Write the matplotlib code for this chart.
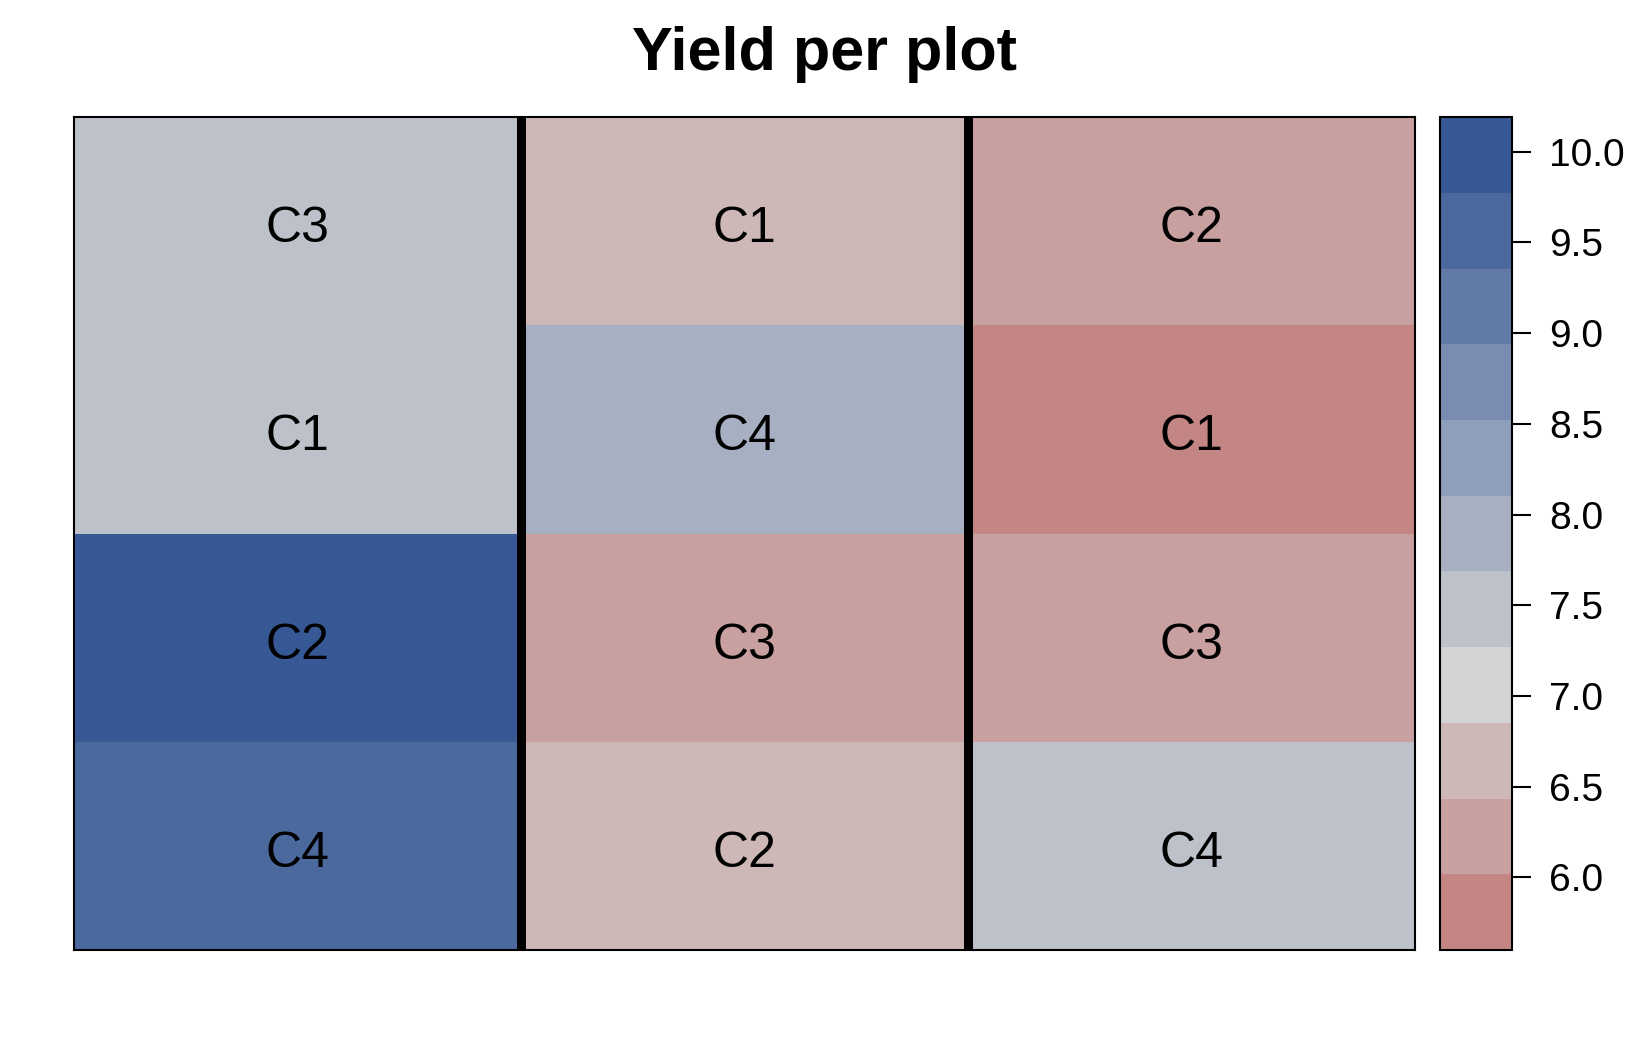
import matplotlib
matplotlib.use("Agg")
import matplotlib.pyplot as plt
import numpy as np
from matplotlib.colors import ListedColormap, BoundaryNorm

plt.rcParams['font.family'] = ['Liberation Sans', 'DejaVu Sans']

# field layout: columns left to right, rows top to bottom
columns = [1, 2, 3]
col1_trt = ['C3', 'C1', 'C2', 'C4']
col2_trt = ['C1', 'C4', 'C3', 'C2']
col3_trt = ['C2', 'C1', 'C3', 'C4']
col1_yield = [7.45, 7.5, 10.19, 9.6]
col2_yield = [6.6, 7.9, 6.2, 6.65]
col3_yield = [6.25, 5.6, 6.2, 7.45]

palette = ["#C38684", "#C8A09F", "#CDB8B7", "#D3D3D3", "#BDC1CA", "#A7B0C2",
           "#8F9EBA", "#7A8DB0", "#627AA6", "#4B699D", "#365996"]

trt = np.array([col1_trt, col2_trt, col3_trt]).T
yld = np.array([col1_yield, col2_yield, col3_yield]).T
nrow, ncol = yld.shape

cmap = ListedColormap(palette)
bounds = np.linspace(yld.min(), yld.max(), len(palette) + 1)
norm = BoundaryNorm(bounds, cmap.N)

fig = plt.figure(figsize=(16.5, 10.5), dpi=100)
ax = fig.add_axes([0.0448, 0.0952, 0.8130, 0.7933])
cax = fig.add_axes([0.8727, 0.0952, 0.0436, 0.7933])

mesh = ax.pcolormesh(np.arange(ncol + 1), np.arange(nrow + 1), yld,
                     cmap=cmap, norm=norm)
ax.set_xlim(0, ncol)
ax.set_ylim(nrow, 0)
for i in range(nrow):
    for j in range(ncol):
        # baseline slightly below centre so the capitals sit mid-cell
        ax.text(j + 0.5, i + 0.6, trt[i, j], ha='center', va='baseline',
                fontsize=36)
for x in range(1, ncol):
    ax.axvline(x, color='black', lw=6.5)
ax.set_xticks([])
ax.set_yticks([])
for s in ax.spines.values():
    s.set_linewidth(1.5)

cb = fig.colorbar(mesh, cax=cax, ticks=np.arange(6.0, 10.01, 0.5),
                  format='%.1f')
cb.outline.set_linewidth(1.5)
cax.minorticks_off()
cax.tick_params(labelsize=28, length=14, width=1.5, pad=13)

fig.text(0.5, 0.9333, 'Yield per plot', ha='center', va='baseline',
         fontsize=44, fontweight='bold')

fig.savefig('out.png', dpi=100)
